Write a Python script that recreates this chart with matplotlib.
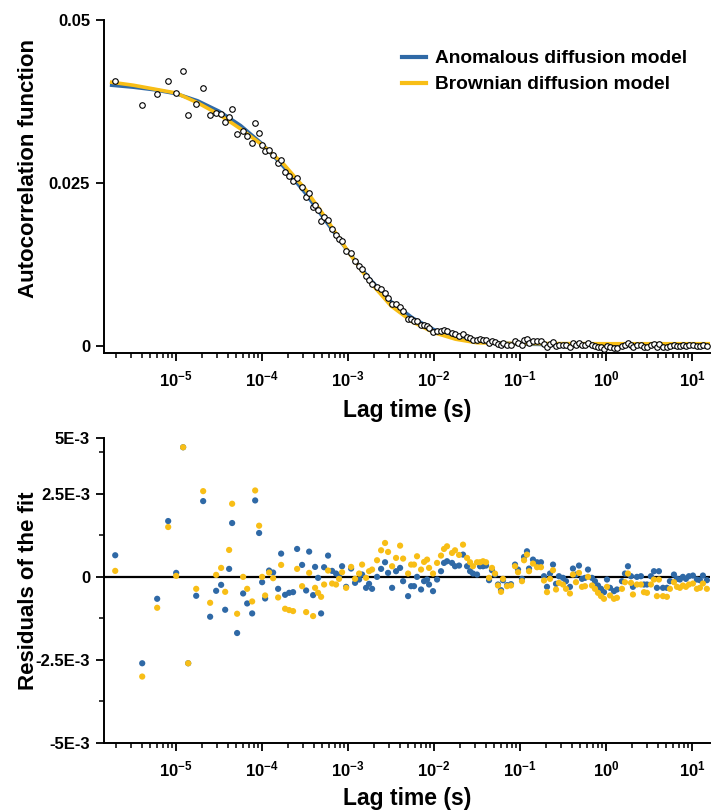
import numpy as np
import matplotlib
matplotlib.use("Agg")
import matplotlib.pyplot as plt
from matplotlib.ticker import LogLocator, NullFormatter, FixedLocator

plt.rcParams['font.family'] = ['Liberation Sans', 'DejaVu Sans']
plt.rcParams['font.weight'] = 'bold'
plt.rcParams['mathtext.fontset'] = 'custom'
plt.rcParams['mathtext.rm'] = 'Liberation Sans:bold'
plt.rcParams['mathtext.bf'] = 'Liberation Sans:bold'

BLUE = '#2F69A6'
YELLOW = '#F8BE16'

# lag times (log10 of seconds)
lag_log10 = [
    -5.709, -5.395, -5.221, -5.093, -5.000, -4.919, -4.860, -4.767, -4.686, -4.605,
    -4.535, -4.477, -4.430, -4.384, -4.349, -4.291, -4.221, -4.174, -4.116, -4.081,
    -4.035, -4.000, -3.965, -3.919, -3.872, -3.814, -3.779, -3.733, -3.686, -3.640,
    -3.593, -3.535, -3.488, -3.453, -3.407, -3.384, -3.349, -3.314, -3.279, -3.233,
    -3.186, -3.140, -3.105, -3.070, -3.023, -2.965, -2.919, -2.872, -2.837, -2.791,
    -2.756, -2.721, -2.663, -2.616, -2.570, -2.535, -2.488, -2.442, -2.395, -2.360,
    -2.302, -2.267, -2.233, -2.198, -2.151, -2.116, -2.081, -2.058, -2.012, -1.965,
    -1.919, -1.884, -1.849, -1.791, -1.756, -1.709, -1.663, -1.616, -1.581, -1.547,
    -1.500, -1.465, -1.430, -1.395, -1.360, -1.326, -1.291, -1.256, -1.221, -1.198,
    -1.151, -1.105, -1.058, -1.023, -0.977, -0.953, -0.919, -0.895, -0.849, -0.802,
    -0.756, -0.721, -0.686, -0.651, -0.616, -0.581, -0.547, -0.500, -0.465, -0.419,
    -0.384, -0.349, -0.314, -0.279, -0.244, -0.209, -0.163, -0.128, -0.093, -0.058,
    -0.023, 0.012, 0.047, 0.093, 0.128, 0.186, 0.221, 0.256, 0.291, 0.314,
    0.360, 0.407, 0.442, 0.477, 0.523, 0.558, 0.593, 0.616, 0.663, 0.709,
    0.744, 0.791, 0.826, 0.860, 0.895, 0.930, 0.965, 1.012, 1.058, 1.093,
    1.128, 1.174,
]

# measured autocorrelation (x 1e-3)
acf_e3 = [
    40.6, 36.9, 38.6, 40.6, 38.8, 42.2, 35.5, 37.1, 39.5, 35.5,
    35.8, 35.6, 34.4, 35.2, 36.3, 32.5, 33.0, 32.2, 31.2, 34.2,
    32.7, 30.8, 29.9, 30.1, 29.3, 28.0, 28.6, 26.7, 26.0, 25.3,
    25.8, 24.4, 22.9, 23.4, 21.3, 21.7, 20.8, 19.1, 19.8, 19.3,
    18.0, 17.1, 16.4, 16.1, 14.6, 14.2, 13.0, 12.3, 11.8, 10.7,
    10.2, 9.5, 9.1, 8.7, 8.2, 7.4, 6.4, 6.4, 6.0, 5.3,
    4.2, 4.2, 3.9, 3.9, 3.2, 3.2, 3.0, 2.7, 2.2, 2.3,
    2.3, 2.4, 2.3, 2.0, 1.8, 1.6, 1.9, 1.4, 1.2, 1.0,
    0.9, 1.1, 1.0, 1.0, 0.5, 0.8, 0.6, 0.3, 0.1, 0.4,
    0.2, 0.2, 0.7, 0.5, 0.2, 0.9, 1.1, 0.5, 0.8, 0.7,
    0.7, 0.3, -0.1, 0.3, 0.6, 0.0, 0.2, 0.2, 0.1, -0.1,
    0.4, 0.2, 0.5, 0.1, 0.1, 0.4, 0.1, 0.0, -0.1, -0.2,
    -0.4, 0.0, -0.2, -0.3, -0.3, 0.0, 0.2, 0.4, 0.1, -0.2,
    0.1, 0.1, -0.1, -0.1, 0.1, 0.3, -0.2, 0.3, -0.2, -0.2,
    0.0, 0.2, 0.0, 0.0, 0.1, 0.0, 0.1, 0.1, 0.0, 0.0,
    0.1, 0.0,
]

# residuals (x 1e-3)
resid_anomalous_e3 = [
    0.65, -2.6, -0.66, 1.68, 0.12, 3.9, -2.6, -0.57, 2.28, -1.2,
    -0.42, -0.24, -0.99, 0.24, 1.62, -1.69, -0.5, -0.8, -1.1, 2.3,
    1.32, -0.16, -0.65, 0.19, 0.13, -0.36, 0.7, -0.54, -0.48, -0.46,
    0.84, 0.36, -0.41, 0.76, -0.55, 0.3, -0.03, -1.1, 0.29, 0.64,
    0.18, 0.1, 0.02, 0.32, -0.3, 0.25, -0.18, -0.08, 0.07, -0.33,
    -0.21, -0.36, 0.0, 0.24, 0.44, 0.12, -0.33, 0.17, 0.27, -0.13,
    -0.58, -0.28, -0.28, 0.0, -0.38, -0.13, -0.08, -0.23, -0.43, -0.08,
    0.17, 0.42, 0.47, 0.42, 0.32, 0.34, 0.67, 0.32, 0.17, 0.1,
    0.07, 0.32, 0.32, 0.34, -0.1, 0.2, 0.07, -0.23, -0.4, -0.1,
    -0.25, -0.22, 0.37, 0.22, -0.06, 0.6, 0.77, 0.25, 0.52, 0.44,
    0.44, 0.02, -0.3, 0.1, 0.37, -0.21, 0.02, -0.03, -0.13, -0.3,
    0.25, 0.07, 0.34, -0.06, -0.03, 0.22, -0.03, -0.13, -0.26, -0.36,
    -0.46, -0.08, -0.33, -0.43, -0.38, -0.13, 0.1, 0.32, 0.02, -0.3,
    0.0, 0.02, -0.23, -0.23, 0.02, 0.17, -0.33, 0.17, -0.33, -0.33,
    -0.13, 0.07, -0.06, -0.08, 0.0, -0.06, 0.02, 0.04, -0.08, -0.1,
    0.04, -0.1,
]

resid_brownian_e3 = [
    0.18, -3.0, -0.93, 1.5, 0.03, 3.9, -2.6, -0.36, 2.58, -0.78,
    0.06, 0.27, -0.45, 0.81, 2.2, -1.11, 0.0, -0.36, -0.74, 2.6,
    1.54, 0.0, -0.56, 0.13, -0.04, -0.62, 0.36, -0.96, -1.0, -1.03,
    0.24, -0.28, -1.06, 0.12, -1.18, -0.33, -0.48, -0.6, -0.23, 0.19,
    -0.2, -0.23, -0.06, 0.14, -0.33, 0.3, -0.06, 0.1, 0.37, -0.03,
    0.17, 0.22, 0.5, 0.8, 1.02, 0.75, 0.32, 0.57, 0.94, 0.55,
    0.1, 0.37, 0.37, 0.62, 0.22, 0.45, 0.52, 0.27, 0.1, 0.42,
    0.64, 0.84, 0.92, 0.72, 0.8, 0.66, 0.97, 0.57, 0.44, 0.32,
    0.44, 0.44, 0.47, 0.44, -0.03, 0.27, 0.1, -0.26, -0.45, -0.06,
    -0.28, -0.26, 0.32, 0.14, -0.13, 0.5, 0.67, 0.17, 0.4, 0.29,
    0.29, -0.11, -0.46, -0.06, 0.2, -0.38, -0.18, -0.23, -0.36, -0.5,
    0.07, -0.16, 0.12, -0.3, -0.28, 0.0, -0.26, -0.36, -0.48, -0.58,
    -0.66, -0.3, -0.56, -0.66, -0.63, -0.36, -0.16, 0.1, -0.18, -0.53,
    -0.23, -0.23, -0.46, -0.48, -0.23, -0.08, -0.58, -0.08, -0.58, -0.6,
    -0.36, -0.16, -0.3, -0.33, -0.26, -0.3, -0.23, -0.2, -0.36, -0.33,
    -0.2, -0.36,
]

# fitted curves (x 1e-3)
fit_log10 = [-5.75, -5.5, -5.25, -5.0, -4.75, -4.5, -4.25, -4.0, -3.75, -3.5,
             -3.25, -3.0, -2.75, -2.5, -2.25, -2.0, -1.75, -1.5, -1.25, -1.0,
             -0.5, 0.0, 0.5, 1.2]
fit_anomalous_e3 = [40.0, 39.7, 39.3, 38.7, 37.6, 36.0, 33.8, 31.0, 27.5, 23.5,
                    19.0, 14.5, 10.3, 6.8, 4.3, 2.5, 1.4, 0.8, 0.5, 0.3,
                    0.2, 0.1, 0.1, 0.1]
fit_brownian_e3 = [40.45, 40.0, 39.4, 38.8, 37.3, 35.5, 33.3, 30.85, 27.9, 24.1,
                   19.45, 14.5, 9.9, 6.15, 3.7, 2.05, 1.05, 0.5, 0.42, 0.38,
                   0.37, 0.35, 0.35, 0.35]

lag = 10 ** np.array(lag_log10)
fit_lag = 10 ** np.array(fit_log10)

xticks = [1e-5, 1e-4, 1e-3, 1e-2, 1e-1, 1e0, 1e1]
xticklabels = [r'$\mathbf{10^{-5}}$', r'$\mathbf{10^{-4}}$', r'$\mathbf{10^{-3}}$',
               r'$\mathbf{10^{-2}}$', r'$\mathbf{10^{-1}}$', r'$\mathbf{10^{0}}$',
               r'$\mathbf{10^{1}}$']
xlim = (10 ** -5.84, 10 ** 1.21)

# residual axis: top end is cut short of 5E-3 but labelled as such
res_top = 4.18e-3

fig = plt.figure(figsize=(7.17, 8.10), dpi=100)
ax1 = fig.add_axes([0.1450, 0.5642, 0.8452, 0.4111])
ax2 = fig.add_axes([0.1450, 0.0827, 0.8452, 0.3766])


def style_axis(ax, xlabel_y):
    ax.set_xscale('log')
    ax.set_xlim(*xlim)
    ax.set_xticks(xticks)
    ax.set_xticklabels(xticklabels)
    ax.xaxis.set_minor_locator(LogLocator(base=10, subs=np.arange(2, 10), numticks=30))
    ax.xaxis.set_minor_formatter(NullFormatter())
    for s in ['top', 'right']:
        ax.spines[s].set_visible(False)
    for s in ['left', 'bottom']:
        ax.spines[s].set_linewidth(1.4)
    ax.tick_params(which='major', direction='out', length=6, width=1.3,
                   labelsize=12, pad=4)
    ax.tick_params(which='minor', direction='out', length=3.5, width=1.1)
    ax.tick_params(axis='x', which='major', pad=6)
    ax.set_xlabel('Lag time (s)', fontsize=16.5, fontweight='bold')
    ax.xaxis.set_label_coords(0.5, xlabel_y)


# top panel
ax1.plot(fit_lag, np.array(fit_anomalous_e3) * 1e-3, color=BLUE, lw=2.6,
         label='Anomalous diffusion model', zorder=2)
ax1.plot(fit_lag, np.array(fit_brownian_e3) * 1e-3, color=YELLOW, lw=2.6,
         label='Brownian diffusion model', zorder=3)
ax1.plot(lag, np.array(acf_e3) * 1e-3, 'o', ms=4, mfc='white', mec='black',
         mew=0.8, zorder=4)
style_axis(ax1, -0.138)
ax1.set_ylim(-0.00107, 0.05)
ax1.set_yticks([0, 0.025, 0.05])
ax1.set_yticklabels(['0', '0.025', '0.05'])
ax1.set_ylabel('Autocorrelation function', fontsize=16, fontweight='bold')
ax1.yaxis.set_label_coords(-0.108, 0.553)
leg = ax1.legend(loc='upper left', bbox_to_anchor=(0.491, 0.91), frameon=False,
                 fontsize=13.8, handlelength=1.3, handletextpad=0.45,
                 labelspacing=0.45, borderpad=0, borderaxespad=0)
for t in leg.get_texts():
    t.set_fontweight('bold')
for h in leg.get_lines():
    h.set_linewidth(3)

# bottom panel
ax2.axhline(0, color='black', lw=1.6, zorder=1)
ax2.scatter(lag, np.array(resid_anomalous_e3) * 1e-3, s=20, color=BLUE,
            edgecolors='none', zorder=3)
ax2.scatter(lag, np.array(resid_brownian_e3) * 1e-3, s=20, color=YELLOW,
            edgecolors='none', zorder=3)
style_axis(ax2, -0.145)
ax2.set_ylim(-5e-3, res_top)
ax2.set_yticks([-5e-3, -2.5e-3, 0, 2.5e-3, res_top])
ax2.set_yticklabels(['-5E-3', '-2.5E-3', '0', '2.5E-3', '5E-3'])
ax2.yaxis.set_minor_locator(FixedLocator([-3.75e-3, -1.25e-3, 1.25e-3, 3.75e-3]))
ax2.set_ylabel('Residuals of the fit', fontsize=16, fontweight='bold')
ax2.yaxis.set_label_coords(-0.108, 0.5)

fig.savefig('out.png', dpi=100)
